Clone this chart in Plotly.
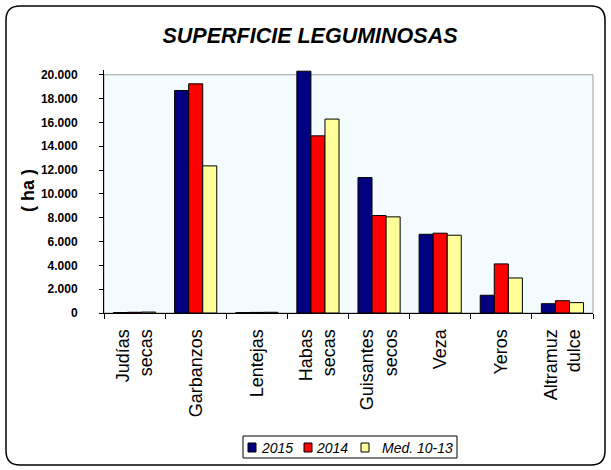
import plotly.graph_objects as go

categories = ["Judías<br>secas", "Garbanzos", "Lentejas", "Habas<br>secas",
              "Guisantes<br>secos", "Veza", "Yeros", "Altramuz<br>dulce"]
s2015 = [40, 18680, 30, 20300, 11370, 6610, 1490, 780]
s2014 = [60, 19240, 50, 14870, 8180, 6700, 4120, 1030]
smed = [80, 12350, 60, 16280, 8070, 6530, 2940, 870]
series_names = ["2015", "2014", "Med. 10-13"]
tick_vals = [0, 2000, 4000, 6000, 8000, 10000, 12000, 14000, 16000, 18000, 20000]
grid_vals = tick_vals[1:-1]

W, H = 611, 470
L, R, T, B = 104, 18, 70, 157
pw, ph = W - L - R, H - T - B

def px2paper(x, y):
    return (x - L) / pw, (H - B - y) / ph

colors = ["#000080", "#FF0000", "#FFFF99"]
fig = go.Figure()
for name, vals, c in zip(series_names, [s2015, s2014, smed], colors):
    fig.add_trace(go.Bar(x=categories, y=vals, name=name, marker_color=c,
                         marker_line=dict(color="black", width=1), showlegend=False))

# outer rounded border
x0, y0, x1, y1, r = 6, 6, 605, 465, 14
def P(x, y):
    a, b = px2paper(x, y)
    return f"{a:.5f},{b:.5f}"
path = (f"M {P(x0+r, y0)} L {P(x1-r, y0)} Q {P(x1, y0)} {P(x1, y0+r)} "
        f"L {P(x1, y1-r)} Q {P(x1, y1)} {P(x1-r, y1)} L {P(x0+r, y1)} "
        f"Q {P(x0, y1)} {P(x0, y1-r)} L {P(x0, y0+r)} Q {P(x0, y0)} {P(x0+r, y0)} Z")

shapes = [
    dict(type="rect", xref="paper", yref="y", x0=0, x1=1, y0=0, y1=20000,
         fillcolor="#F4FBFF", line=dict(color="#A0A0A0", width=1), layer="below"),
    dict(type="path", xref="paper", yref="paper", path=path,
         line=dict(color="black", width=1.5), layer="above"),
]
annotations = [
    dict(text="( ha )", xref="paper", yref="paper",
         x=px2paper(28, 191)[0], y=px2paper(28, 191)[1], textangle=-90,
         showarrow=False, font=dict(size=18, weight="bold"),
         xanchor="center", yanchor="middle"),
]

# legend box (drawn manually to match compact Excel legend)
lx0, ly0 = px2paper(243, 436)
lx1, ly1 = px2paper(457, 458)
shapes.append(dict(type="rect", xref="paper", yref="paper", x0=lx0, y0=ly0, x1=lx1, y1=ly1,
                   fillcolor="white", line=dict(color="black", width=1), layer="above"))
sym_x = [248, 304, 361]
txt_x = [259, 314, 380]
for name, c, sx, tx in zip(series_names, colors, sym_x, txt_x):
    a0, b0 = px2paper(sx, 443)
    a1, b1 = px2paper(sx + 8, 452)
    shapes.append(dict(type="rect", xref="paper", yref="paper", x0=a0, y0=b0, x1=a1, y1=b1,
                       fillcolor=c, line=dict(color="black", width=1), layer="above"))
    ta, tb = px2paper(tx, 448)
    annotations.append(dict(text=name, xref="paper", yref="paper", x=ta, y=tb,
                            xanchor="left", yanchor="middle", showarrow=False,
                            font=dict(size=14, style="italic")))

fig.update_layout(
    width=W, height=H,
    margin=dict(l=L, r=R, t=T, b=B, pad=0, autoexpand=False),
    paper_bgcolor="white", plot_bgcolor="white",
    separators=",.",
    font=dict(family="Liberation Sans, Arial", color="black"),
    barmode="group", bargap=0.31, bargroupgap=0,
    title=dict(text="SUPERFICIE LEGUMINOSAS", xref="container", x=310 / W,
               xanchor="center", y=1 - 35 / H, yanchor="middle",
               font=dict(size=21.5, weight="bold", style="italic", color="black")),
    xaxis=dict(type="category", tickson="boundaries", ticks="outside", ticklen=5,
               tickcolor="black", showline=True, linecolor="black", linewidth=1,
               showgrid=False, tickangle=-90, tickfont=dict(size=18),
               ticklabelstandoff=8, automargin=False),
    yaxis=dict(range=[0, 20400], tickvals=tick_vals, tickformat=",.0f",
               ticks="outside", ticklen=4, tickcolor="black", showline=True,
               linecolor="black", linewidth=1, showgrid=False, zeroline=False,
               tickfont=dict(size=12, weight="bold"), ticklabelstandoff=19,
               automargin=False),
    yaxis2=dict(range=[0, 20400], overlaying="y", anchor="x", tickvals=grid_vals,
                showgrid=True, gridcolor="black", gridwidth=1, showticklabels=False,
                ticks="", showline=False, zeroline=False),
    showlegend=False,
    shapes=shapes,
    annotations=annotations,
)
fig.write_html("out.html", config={"displayModeBar": False},
               post_script="document.body.style.margin='0';")
